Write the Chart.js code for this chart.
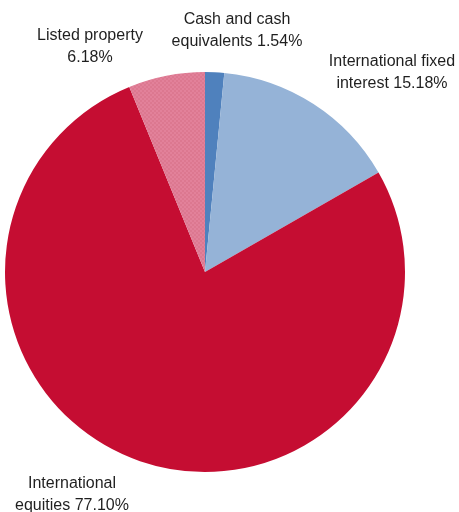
<!DOCTYPE html>
<html>
<head>
<meta charset="utf-8">
<script src="https://cdn.jsdelivr.net/npm/chart.js@4"></script>
<style>
html,body{margin:0;padding:0;background:#fff;}
#wrap{width:459px;height:512px;position:relative;}
</style>
</head>
<body>
<div id="wrap"><canvas id="c" width="459" height="512"></canvas></div>
<script>
const categories = ["Cash and cash equivalents", "International fixed interest", "International equities", "Listed property"];
const values = [1.54, 15.18, 77.10, 6.18];
const labelLines = [
  ["Cash and cash", "equivalents 1.54%"],
  ["International fixed", "interest 15.18%"],
  ["International", "equities 77.10%"],
  ["Listed property", "6.18%"]
];

function makePattern() {
  const p = document.createElement('canvas');
  p.width = 4; p.height = 4;
  const g = p.getContext('2d');
  g.fillStyle = '#e2819a';
  g.fillRect(0, 0, 4, 4);
  g.fillStyle = '#dc7890';
  g.fillRect(0, 0, 2, 2);
  g.fillRect(2, 2, 2, 2);
  return g.createPattern(p, 'repeat');
}
const ctx0 = document.getElementById('c').getContext('2d');
const colors = ['#4f81bd', '#95b3d7', '#c50d32', makePattern()];

// label anchors relative to chart center (pixels)
const labelOffsets = [[32, -252], [187, -210], [-133, 212], [-115, -236]];

const labelPlugin = {
  id: 'sliceLabels',
  afterDatasetsDraw(chart) {
    const arc = chart.getDatasetMeta(0).data[0];
    const cx = arc.x, cy = arc.y;
    const ctx = chart.ctx;
    ctx.save();
    ctx.font = '16px "Liberation Sans", Arial, sans-serif';
    ctx.fillStyle = '#1f1f1f';
    ctx.textAlign = 'center';
    ctx.textBaseline = 'middle';
    labelLines.forEach((lines, i) => {
      const [dx, dy] = labelOffsets[i];
      lines.forEach((ln, j) => {
        ctx.fillText(ln, cx + dx, cy + dy + j * 22);
      });
    });
    ctx.restore();
  }
};

new Chart(ctx0, {
  type: 'pie',
  data: {
    labels: categories,
    datasets: [{
      data: values,
      backgroundColor: colors,
      borderWidth: 0
    }]
  },
  options: {
    responsive: false,
    animation: false,
    layout: { padding: { left: 5, right: 54, top: 72, bottom: 40 } },
    plugins: { legend: { display: false }, tooltip: { enabled: false } }
  },
  plugins: [labelPlugin]
});
</script>
</body>
</html>
